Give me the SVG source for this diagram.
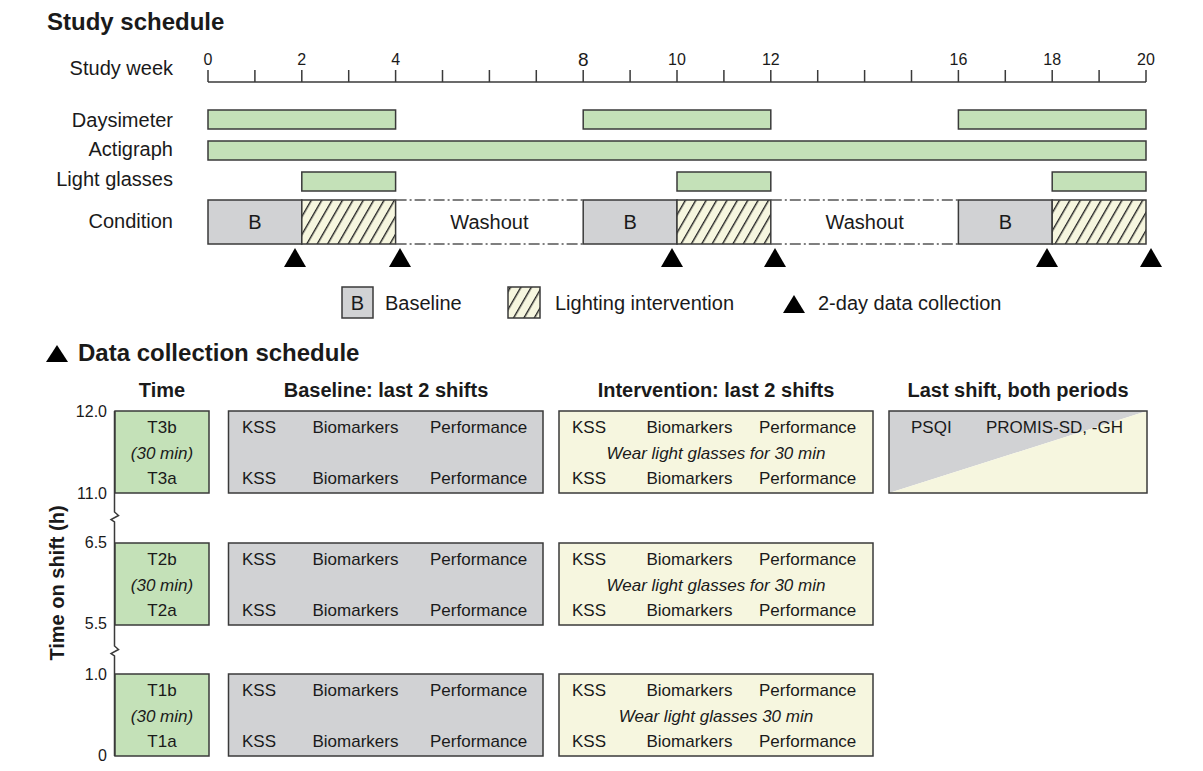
<svg xmlns="http://www.w3.org/2000/svg" width="1203" height="771" viewBox="0 0 1203 771">
<style>
text{font-family:"Liberation Sans",Arial,sans-serif;fill:#1a1a1a}
.t{font-size:24px;font-weight:bold}
.h{font-size:20px;font-weight:bold;text-anchor:middle}
.lb{font-size:20px;text-anchor:end}
.lg{font-size:20px}
.ax{font-size:16px;text-anchor:middle}
.yl{font-size:16px;text-anchor:end}
.b{font-size:17px}
.c{font-size:17px;text-anchor:middle}
.i{font-size:17px;font-style:italic;text-anchor:middle}
.g{fill:#c4e1b8;stroke:#3a3a3a;stroke-width:1.5}
.gr{fill:#d1d2d4;stroke:#3a3a3a;stroke-width:1.5}
.y{fill:#f6f6df;stroke:#3a3a3a;stroke-width:1.5}
.ht{fill:url(#hatch);stroke:#3a3a3a;stroke-width:1.5}
.ln{stroke:#3a3a3a;stroke-width:1.5;fill:none}
.dd{stroke:#555;stroke-width:1.5;stroke-dasharray:11,3,2,3;fill:none}
.tri{fill:#000}
</style>
<defs>
<pattern id="hatch" patternUnits="userSpaceOnUse" width="9" height="10" patternTransform="rotate(30)">
<rect width="9" height="10" fill="#f6f6df"/>
<line x1="0.7" y1="0" x2="0.7" y2="10" stroke="#222" stroke-width="1.4"/>
</pattern>
</defs>

<text class="t" x="47" y="30">Study schedule</text>

<g id="axis">
<text class="lb" x="173" y="75">Study week</text>
<line class="ln" x1="208" y1="82" x2="1146" y2="82"/>
<path class="ln" d="M208,70V82 M254.9,70V82 M301.8,70V82 M348.7,70V82 M395.6,70V82 M442.5,70V82 M489.4,70V82 M536.3,70V82 M583.2,70V82 M630.1,70V82 M677,70V82 M723.9,70V82 M770.8,70V82 M817.7,70V82 M864.6,70V82 M911.5,70V82 M958.4,70V82 M1005.3,70V82 M1052.2,70V82 M1099.1,70V82 M1146,70V82"/>
<text class="ax" x="208" y="65">0</text>
<text class="ax" x="301.8" y="65">2</text>
<text class="ax" x="395.6" y="65">4</text>
<text class="ax" x="583.2" y="66" style="font-size:19px">8</text>
<text class="ax" x="677" y="65">10</text>
<text class="ax" x="770.8" y="65">12</text>
<text class="ax" x="958.4" y="65">16</text>
<text class="ax" x="1052.2" y="65">18</text>
<text class="ax" x="1146" y="65">20</text>
</g>

<g id="daysimeter">
<text class="lb" x="173" y="127">Daysimeter</text>
<rect class="g" x="208" y="110" width="187.6" height="19"/>
<rect class="g" x="583.2" y="110" width="187.6" height="19"/>
<rect class="g" x="958.4" y="110" width="187.6" height="19"/>
</g>

<g id="actigraph">
<text class="lb" x="173" y="156">Actigraph</text>
<rect class="g" x="208" y="141" width="938" height="19"/>
</g>

<g id="light-glasses">
<text class="lb" x="173" y="186">Light glasses</text>
<rect class="g" x="301.8" y="172" width="93.8" height="19"/>
<rect class="g" x="677" y="172" width="93.8" height="19"/>
<rect class="g" x="1052.2" y="172" width="93.8" height="19"/>
</g>

<g id="condition">
<text class="lb" x="173" y="228">Condition</text>
<rect class="gr" x="208" y="200" width="93.8" height="44"/>
<text class="c" style="font-size:20px" x="254.9" y="229">B</text>
<rect class="ht" x="301.8" y="200" width="93.8" height="44"/>
<path class="dd" d="M395.6,200H583.2 M395.6,244H583.2"/>
<text class="c" style="font-size:20px" x="489.4" y="229">Washout</text>
<rect class="gr" x="583.2" y="200" width="93.8" height="44"/>
<text class="c" style="font-size:20px" x="630.1" y="229">B</text>
<rect class="ht" x="677" y="200" width="93.8" height="44"/>
<path class="dd" d="M770.8,200H958.4 M770.8,244H958.4"/>
<text class="c" style="font-size:20px" x="864.6" y="229">Washout</text>
<rect class="gr" x="958.4" y="200" width="93.8" height="44"/>
<text class="c" style="font-size:20px" x="1005.3" y="229">B</text>
<rect class="ht" x="1052.2" y="200" width="93.8" height="44"/>
</g>

<g id="collection-markers">
<polygon class="tri" points="295,248 284,267 306,267"/>
<polygon class="tri" points="400,248 389,267 411,267"/>
<polygon class="tri" points="672,248 661,267 683,267"/>
<polygon class="tri" points="775,248 764,267 786,267"/>
<polygon class="tri" points="1047,248 1036,267 1058,267"/>
<polygon class="tri" points="1151,248 1140,267 1162,267"/>
</g>

<g id="legend">
<rect class="gr" x="342" y="287" width="31" height="31"/>
<text class="c" style="font-size:20px" x="357.5" y="310">B</text>
<text class="lg" x="385" y="310">Baseline</text>
<rect class="ht" x="508" y="287" width="32" height="31"/>
<text class="lg" x="555" y="310">Lighting intervention</text>
<polygon class="tri" points="794,295 783,313 805,313"/>
<text class="lg" x="818" y="310">2-day data collection</text>
</g>

<g id="dc-title">
<polygon class="tri" points="57,345 46,362 68,362"/>
<text class="t" x="78" y="361">Data collection schedule</text>
</g>

<g id="headers">
<text class="h" x="162" y="397">Time</text>
<text class="h" x="386" y="397">Baseline: last 2 shifts</text>
<text class="h" x="716" y="397">Intervention: last 2 shifts</text>
<text class="h" x="1018" y="397">Last shift, both periods</text>
</g>

<g id="time-axis">
<text class="b" x="57" y="583" transform="rotate(-90 57 583)" style="font-weight:bold;font-size:20px;text-anchor:middle" dy="7">Time on shift (h)</text>
<path class="ln" d="M114.5,411V512L118.5,515.5L111,519.5L114.5,522V646L118.5,649.5L111,653.5L114.5,656V756"/>
<text class="yl" x="107" y="416.5">12.0</text>
<text class="yl" x="107" y="498.5">11.0</text>
<text class="yl" x="107" y="548">6.5</text>
<text class="yl" x="107" y="629">5.5</text>
<text class="yl" x="107" y="679.5">1.0</text>
<text class="yl" x="107" y="761">0</text>
</g>

<g id="t3">
<rect class="g" x="115" y="411" width="94" height="82"/>
<text class="c" x="162" y="432.5">T3b</text>
<text class="i" x="162" y="458.5">(30 min)</text>
<text class="c" x="162" y="484">T3a</text>
</g>
<g id="t2">
<rect class="g" x="115" y="543" width="94" height="82"/>
<text class="c" x="162" y="564.5">T2b</text>
<text class="i" x="162" y="590.5">(30 min)</text>
<text class="c" x="162" y="616">T2a</text>
</g>
<g id="t1">
<rect class="g" x="115" y="674" width="94" height="82"/>
<text class="c" x="162" y="695.5">T1b</text>
<text class="i" x="162" y="721.5">(30 min)</text>
<text class="c" x="162" y="747">T1a</text>
</g>

<g id="baseline-t3">
<rect class="gr" x="228.5" y="411" width="314.5" height="82"/>
<text class="b" x="242" y="432.5">KSS</text><text class="b" x="312.5" y="432.5">Biomarkers</text><text class="b" x="430" y="432.5">Performance</text>
<text class="b" x="242" y="484">KSS</text><text class="b" x="312.5" y="484">Biomarkers</text><text class="b" x="430" y="484">Performance</text>
</g>
<g id="baseline-t2">
<rect class="gr" x="228.5" y="543" width="314.5" height="82"/>
<text class="b" x="242" y="564.5">KSS</text><text class="b" x="312.5" y="564.5">Biomarkers</text><text class="b" x="430" y="564.5">Performance</text>
<text class="b" x="242" y="616">KSS</text><text class="b" x="312.5" y="616">Biomarkers</text><text class="b" x="430" y="616">Performance</text>
</g>
<g id="baseline-t1">
<rect class="gr" x="228.5" y="674" width="314.5" height="82"/>
<text class="b" x="242" y="695.5">KSS</text><text class="b" x="312.5" y="695.5">Biomarkers</text><text class="b" x="430" y="695.5">Performance</text>
<text class="b" x="242" y="747">KSS</text><text class="b" x="312.5" y="747">Biomarkers</text><text class="b" x="430" y="747">Performance</text>
</g>

<g id="intervention-t3">
<rect class="y" x="559" y="411" width="314" height="82"/>
<text class="b" x="572" y="432.5">KSS</text><text class="b" x="646.5" y="432.5">Biomarkers</text><text class="b" x="759" y="432.5">Performance</text>
<text class="i" x="716" y="458.5">Wear light glasses for 30 min</text>
<text class="b" x="572" y="484">KSS</text><text class="b" x="646.5" y="484">Biomarkers</text><text class="b" x="759" y="484">Performance</text>
</g>
<g id="intervention-t2">
<rect class="y" x="559" y="543" width="314" height="82"/>
<text class="b" x="572" y="564.5">KSS</text><text class="b" x="646.5" y="564.5">Biomarkers</text><text class="b" x="759" y="564.5">Performance</text>
<text class="i" x="716" y="590.5">Wear light glasses for 30 min</text>
<text class="b" x="572" y="616">KSS</text><text class="b" x="646.5" y="616">Biomarkers</text><text class="b" x="759" y="616">Performance</text>
</g>
<g id="intervention-t1">
<rect class="y" x="559" y="674" width="314" height="82"/>
<text class="b" x="572" y="695.5">KSS</text><text class="b" x="646.5" y="695.5">Biomarkers</text><text class="b" x="759" y="695.5">Performance</text>
<text class="i" x="716" y="721.5">Wear light glasses 30 min</text>
<text class="b" x="572" y="747">KSS</text><text class="b" x="646.5" y="747">Biomarkers</text><text class="b" x="759" y="747">Performance</text>
</g>

<g id="last-shift">
<polygon points="889,411 1147,411 889,493" fill="#d1d2d4"/>
<polygon points="1147,411 1147,493 889,493" fill="#f6f6df"/>
<rect x="889" y="411" width="258" height="82" fill="none" stroke="#3a3a3a" stroke-width="1.5"/>
<text class="b" x="911" y="432.5">PSQI</text>
<text class="b" x="986" y="432.5">PROMIS-SD, -GH</text>
</g>
</svg>
